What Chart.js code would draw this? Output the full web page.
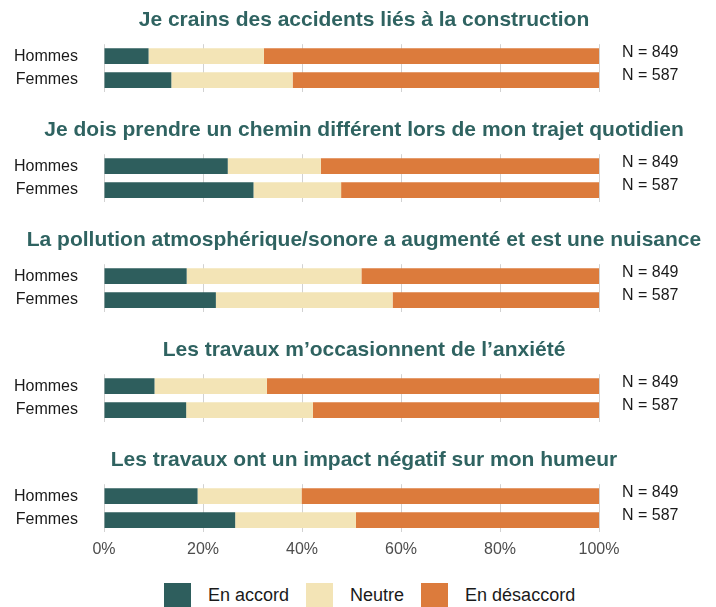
<!DOCTYPE html>
<html>
<head>
<meta charset="utf-8">
<script src="https://cdn.jsdelivr.net/npm/chart.js@4"></script>
<style>
  body { margin: 0; background: #fff; width: 716px; height: 607px; overflow: hidden; position: relative; font-family: "Liberation Sans", Arial, sans-serif; }
  canvas { position: absolute; left: 0; }
  #legend { position: absolute; left: 164px; top: 583px; display: flex; align-items: center; font-size: 18px; color: #1a1a1a; }
  #legend .box { width: 27px; height: 24px; margin-right: 17px; }
  #legend .txt { margin-right: 17px; }
</style>
</head>
<body>
<div id="legend"></div>
<script>
const questions = [
  "Je crains des accidents liés à la construction",
  "Je dois prendre un chemin différent lors de mon trajet quotidien",
  "La pollution atmosphérique/sonore a augmenté et est une nuisance",
  "Les travaux m\u2019occasionnent de l\u2019anxiété",
  "Les travaux ont un impact négatif sur mon humeur"
];
const groups = ["Hommes", "Femmes"];
const sampleSizes = ["N = 849", "N = 587"];
const seriesNames = ["En accord", "Neutre", "En désaccord"];
const seriesColors = ["#2e5e5d", "#f3e4b6", "#dc7b3c"];
const xTicks = [0, 20, 40, 60, 80, 100];

// one pair [Hommes, Femmes] per question, in %
const enAccord = [[9.0, 13.6], [25.0, 30.2], [16.7, 22.6], [10.2, 16.6], [18.9, 26.5]];
const neutre = [[23.3, 24.5], [18.8, 17.7], [35.3, 35.7], [22.7, 25.6], [21.0, 24.4]];
const enDesaccord = [[67.7, 61.9], [56.2, 52.1], [48.0, 41.7], [67.1, 57.8], [60.1, 49.1]];

const seriesValues = [enAccord, neutre, enDesaccord];
const font = "'Liberation Sans', Arial, sans-serif";

// fixed axis width, and no extra vertical room for the tick padding
const fixWidth = w => s => {
  s.width = w;
  s.paddingTop = 0;
  s.paddingBottom = 0;
};

questions.forEach((q, i) => {
  const last = i === questions.length - 1;
  const canvas = document.createElement("canvas");
  canvas.width = 716;
  canvas.height = last ? 120 : 110;
  canvas.style.top = (i * 110) + "px";
  document.body.appendChild(canvas);

  new Chart(canvas.getContext("2d"), {
    type: "bar",
    data: {
      labels: groups,
      datasets: seriesNames.map((name, k) => ({
        label: name,
        data: seriesValues[k][i],
        backgroundColor: seriesColors[k],
        barPercentage: 0.66,
        categoryPercentage: 1
      }))
    },
    options: {
      indexAxis: "y",
      responsive: false,
      animation: false,
      layout: { padding: { left: 12, right: 0, top: 0, bottom: last ? 0 : 18 } },
      plugins: {
        legend: { display: false },
        tooltip: { enabled: false },
        title: {
          display: true,
          text: q,
          color: "#2f6361",
          font: { family: font, size: 21, weight: "bold" },
          padding: { top: 8, bottom: 11 }
        }
      },
      scales: {
        x: {
          stacked: true,
          min: 0,
          max: 100,
          afterBuildTicks: s => { s.ticks = xTicks.map(v => ({ value: v })); },
          afterFit: s => { s.height = last ? 28 : 0; },
          grid: { color: "#d2d2d2", drawTicks: false },
          border: { display: false },
          ticks: {
            display: last,
            padding: 8,
            color: "#4d4d4d",
            font: { family: font, size: 16 },
            callback: v => v + "%"
          }
        },
        y: {
          stacked: true,
          grid: { display: false, drawTicks: false },
          border: { display: false },
          ticks: { padding: 26, autoSkip: false, color: "#1a1a1a", font: { family: font, size: 16 } },
          afterFit: fixWidth(92)
        },
        n: {
          type: "category",
          position: "right",
          labels: sampleSizes,
          offset: true,
          grid: { display: false, drawTicks: false },
          border: { display: false },
          ticks: { padding: 23, labelOffset: -4, autoSkip: false, color: "#1a1a1a", font: { family: font, size: 16 } },
          afterFit: fixWidth(117)
        }
      }
    }
  });
});

const legend = document.getElementById("legend");
seriesNames.forEach((name, k) => {
  const box = document.createElement("span");
  box.className = "box";
  box.style.background = seriesColors[k];
  const txt = document.createElement("span");
  txt.className = "txt";
  txt.textContent = name;
  legend.appendChild(box);
  legend.appendChild(txt);
});
</script>
</body>
</html>
